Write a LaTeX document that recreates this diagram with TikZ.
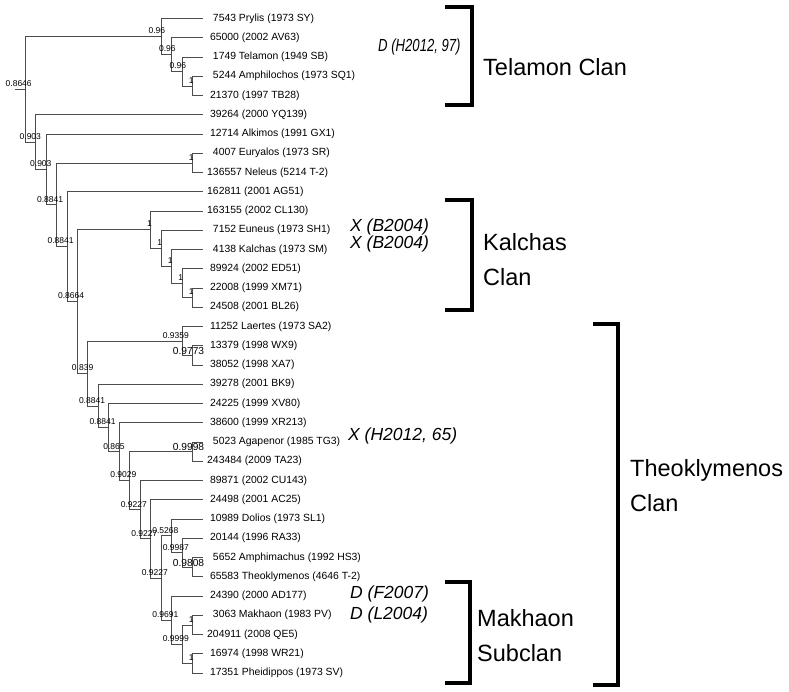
\documentclass[tikz,border=0pt]{standalone}
\usepackage{fontspec}
\usepackage{graphicx}
\setmainfont{Liberation Sans}
\begin{document}
\begin{tikzpicture}[x=1pt,y=-1pt,
  br/.style={draw=black!70,line width=0.7pt},
  leaf/.style={anchor=west,inner sep=0pt,xshift=4pt,font=\fontsize{10.4}{12}\selectfont},
  lbl/.style={anchor=base,inner sep=0pt,yshift=2.7pt,font=\fontsize{8.5}{10}\selectfont},
  big/.style={anchor=base,inner sep=0pt,xshift=-4pt,yshift=1pt,font=\fontsize{10.2}{12}\selectfont},
  note/.style={anchor=west,inner sep=0pt,font=\fontsize{17.5}{20}\selectfont\itshape},
  clan/.style={anchor=west,inner sep=0pt,align=left,font=\fontsize{23.5}{35}\selectfont},
  bracket/.style={line width=3.8pt}]
\useasboundingbox (0,0) rectangle (789,692);
% leaves
\foreach \i/\t in {0/\ \ 7543 Prylis (1973 SY),1/\ 65000 (2002 AV63),
  2/\ \ 1749 Telamon (1949 SB),3/\ \ 5244 Amphilochos (1973 SQ1),
  4/\ 21370 (1997 TB28),5/\ 39264 (2000 YQ139),6/\ 12714 Alkimos (1991 GX1),
  7/\ \ 4007 Euryalos (1973 SR),8/136557 Neleus (5214 T-2),9/162811 (2001 AG51),
  10/163155 (2002 CL130),11/\ \ 7152 Euneus (1973 SH1),12/\ \ 4138 Kalchas (1973 SM),
  13/\ 89924 (2002 ED51),14/\ 22008 (1999 XM71),15/\ 24508 (2001 BL26),
  16/\ 11252 Laertes (1973 SA2),17/\ 13379 (1998 WX9),18/\ 38052 (1998 XA7),
  19/\ 39278 (2001 BK9),20/\ 24225 (1999 XV80),21/\ 38600 (1999 XR213),
  22/\ \ 5023 Agapenor (1985 TG3),23/243484 (2009 TA23),24/\ 89871 (2002 CU143),
  25/\ 24498 (2001 AC25),26/\ 10989 Dolios (1973 SL1),27/\ 20144 (1996 RA33),
  28/\ \ 5652 Amphimachus (1992 HS3),29/\ 65583 Theoklymenos (4646 T-2),
  30/\ 24390 (2000 AD177),31/\ \ 3063 Makhaon (1983 PV),32/204911 (2008 QE5),
  33/\ 16974 (1998 WR21),34/\ 17351 Pheidippos (1973 SV)}
  {\coordinate (l\i) at (203,18.5+19.25*\i);
   \node[leaf] (t\i) at (l\i) {\t};}
% inner nodes
\coordinate (R) at (25.0,89.3);
\coordinate (E) at (35.5,142.1);
\coordinate (F) at (46.0,169.4);
\coordinate (G) at (56.4,204.8);
\coordinate (H) at (66.9,246.6);
\coordinate (I) at (77.4,301.5);
\coordinate (L) at (87.8,373.4);
\coordinate (M) at (98.3,405.9);
\coordinate (M2) at (108.8,427.6);
\coordinate (M3) at (119.2,451.7);
\coordinate (M4) at (129.7,480.6);
\coordinate (M5) at (140.2,509.7);
\coordinate (M6) at (150.7,538.8);
\coordinate (M7) at (161.1,577.9);
\coordinate (P) at (171.6,535.8);
\coordinate (P2) at (182.1,552.7);
\coordinate (P3) at (192.5,567.1);
\coordinate (Q) at (171.6,620.1);
\coordinate (Q2) at (182.1,644.1);
\coordinate (Q3) at (192.5,624.9);
\coordinate (Q4) at (192.5,663.4);
\coordinate (AG) at (192.5,451.6);
\coordinate (N1) at (182.1,340.9);
\coordinate (N2) at (192.5,355.4);
\coordinate (K) at (150.7,229.6);
\coordinate (K2) at (161.1,248.3);
\coordinate (K3) at (171.6,266.3);
\coordinate (K4) at (182.1,283.2);
\coordinate (K5) at (192.5,297.6);
\coordinate (EN) at (192.5,162.9);
\coordinate (D) at (161.1,36.55);
\coordinate (C) at (171.6,54.6);
\coordinate (B) at (182.1,71.4);
\coordinate (A) at (192.5,85.9);
\coordinate (r0) at (14.5,89.3);
% branches
\draw[br] (r0) -- (R);
\foreach \p/\c in {R/D,R/E,E/l5,E/F,F/l6,F/G,G/EN,G/H,EN/l7,EN/l8,H/l9,H/I,
  I/K,I/L,K/l10,K/K2,K2/l11,K2/K3,K3/l12,K3/K4,K4/l13,K4/K5,K5/l14,K5/l15,
  L/N1,L/M,N1/l16,N1/N2,N2/l17,N2/l18,M/l19,M/M2,M2/l20,M2/M3,M3/l21,M3/M4,
  M4/AG,M4/M5,AG/l22,AG/l23,M5/l24,M5/M6,M6/l25,M6/M7,M7/P,M7/Q,P/l26,P/P2,
  P2/l27,P2/P3,P3/l28,P3/l29,Q/l30,Q/Q2,Q2/Q3,Q2/Q4,Q3/l31,Q3/l32,Q4/l33,Q4/l34,
  D/l0,D/C,C/l1,C/B,B/l2,B/A,A/l3,A/l4}
  \draw[br] (\p) |- (\c);
% support values
\foreach \n/\t/\d in {R/0.8646/6.3,E/0.903/5.2,F/0.903/5.2,G/0.8841/6.3,
  H/0.8841/6.3,I/0.8664/6.3,L/0.839/5.2,M/0.8841/6.3,M2/0.8841/6.3,
  M3/0.865/5.2,M4/0.9029/6.3,M5/0.9227/6.3,M6/0.9227/6.3,M7/0.9227/6.3,
  P/0.5268/6.3,P2/0.9987/6.3,Q/0.9691/6.3,Q2/0.9999/6.3,Q3/1/1.3,Q4/1/1.3,
  N1/0.9359/6.3,K/1/1.3,K2/1/1.3,K3/1/1.3,K4/1/1.3,K5/1/1.3,EN/1/1.3,
  D/0.96/4.3,C/0.96/4.3,B/0.96/4.3,A/1/1.3}
  \node[lbl,xshift=-\d pt] (s\n) at (\n) {\t};
\foreach \n/\t in {N2/0.9773,AG/0.9998,P3/0.9808}
  \node[big] (s\n) at (\n) {\t};
% notes
\node[note] (dH) at (378,47) {\scalebox{0.75}[1]{D (H2012, 97)}};
\node[note] (xB1) at (350,226.5) {X (B2004)};
\node[note] (xB2) at (350,244) {X (B2004)};
\node[note] (xH) at (348,436) {X (H2012, 65)};
\node[note] (dF) at (350,594) {D (F2007)};
\node[note] (dL) at (350,615) {D (L2004)};
% clans
\draw[bracket] (445,7) -| (472,105) -- (445,105);
\draw[bracket] (445,200) -| (472,310) -- (445,310);
\draw[bracket] (593,324) -| (618,685) -- (593,685);
\draw[bracket] (445,582) -| (470,683) -- (445,683);
\node[clan] (telamon) at (483,67) {Telamon Clan};
\node[clan] (kalchas) at (483,259.5) {Kalchas\\Clan};
\node[clan] (theokl) at (630,486) {Theoklymenos\\Clan};
\node[clan] (makhaon) at (477,635.5) {Makhaon\\Subclan};
\end{tikzpicture}
\end{document}
